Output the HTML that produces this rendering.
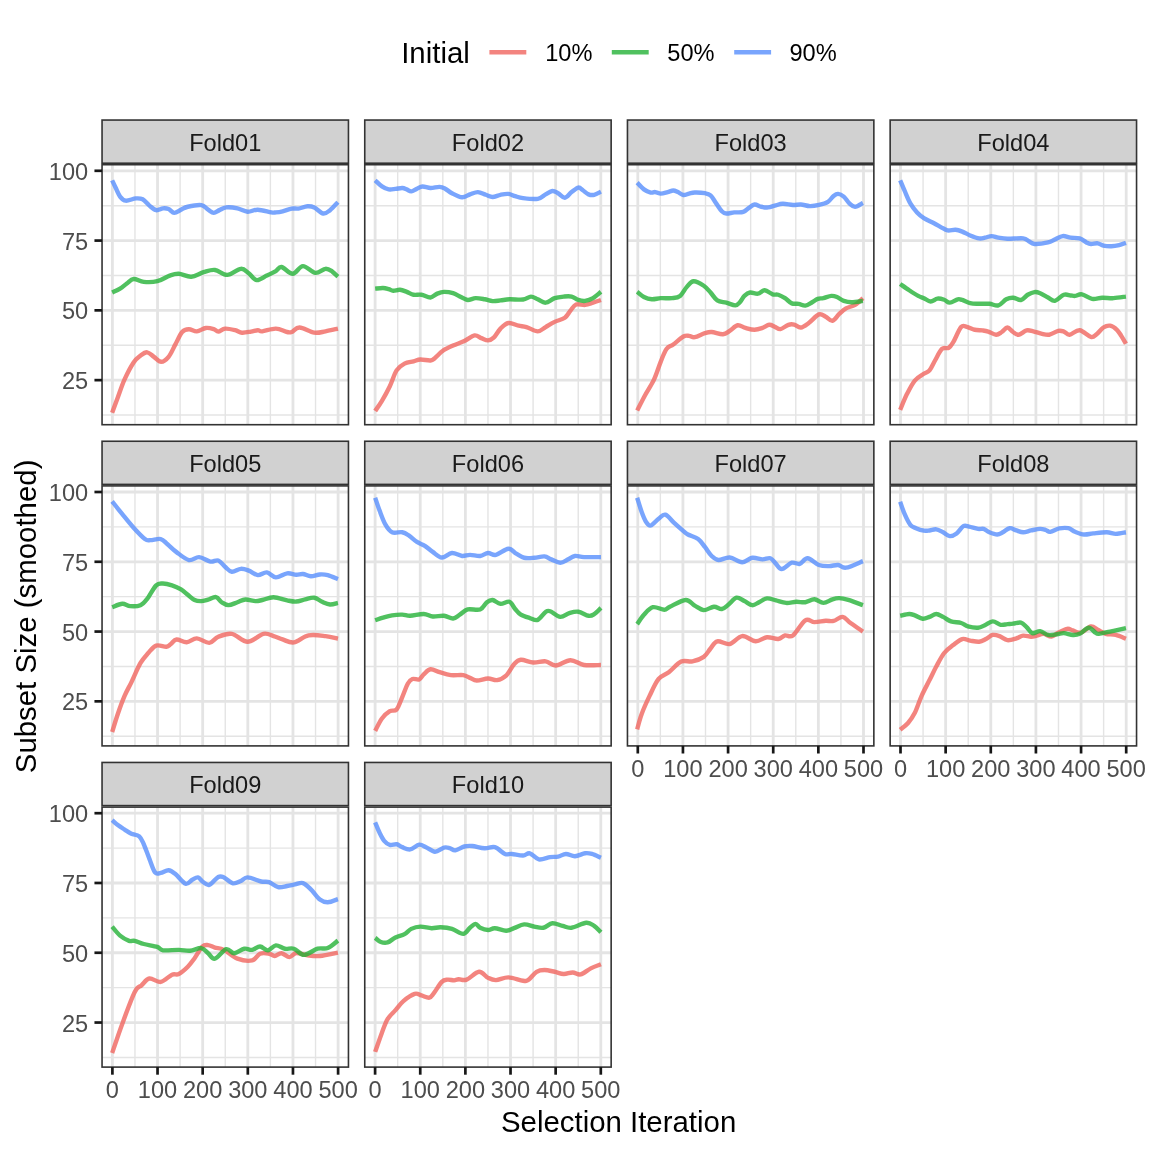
<!DOCTYPE html>
<html><head><meta charset="utf-8"><style>html,body{margin:0;padding:0;background:#fff;width:1152px;height:1152px;overflow:hidden}</style></head>
<body><svg width="1152" height="1152" viewBox="0 0 1152 1152" style="display:block;will-change:transform">
<rect width="1152" height="1152" fill="#fff"/>
<g font-family="Liberation Sans, sans-serif">
<text x="401.2" y="63.4" font-size="29.4" fill="#000">Initial</text>
<line x1="489.40" y1="52.2" x2="526.30" y2="52.2" stroke="#F0655F" stroke-opacity="0.8" stroke-width="4.4"/>
<text x="545.20" y="61.4" font-size="23.6" fill="#000">10%</text>
<line x1="611.80" y1="52.2" x2="648.70" y2="52.2" stroke="#24B237" stroke-opacity="0.8" stroke-width="4.4"/>
<text x="667.30" y="61.4" font-size="23.6" fill="#000">50%</text>
<line x1="734.20" y1="52.2" x2="771.10" y2="52.2" stroke="#588FFD" stroke-opacity="0.8" stroke-width="4.4"/>
<text x="789.40" y="61.4" font-size="23.6" fill="#000">90%</text>
</g>
<rect x="102.05" y="120.05" width="246.4" height="43.15" fill="#D1D1D1" stroke="#333333" stroke-width="1.6"/>
<text x="225.25" y="150.80" font-family="Liberation Sans, sans-serif" font-size="23.6" fill="#1A1A1A" text-anchor="middle">Fold01</text>
<g stroke="#E4E4E4">
<line x1="102.05" x2="348.45" y1="415.03" y2="415.03" stroke-width="1.4"/>
<line x1="102.05" x2="348.45" y1="345.25" y2="345.25" stroke-width="1.4"/>
<line x1="102.05" x2="348.45" y1="275.47" y2="275.47" stroke-width="1.4"/>
<line x1="102.05" x2="348.45" y1="205.69" y2="205.69" stroke-width="1.4"/>
<line y1="164.70" y2="424.70" x1="134.97" x2="134.97" stroke-width="1.4"/>
<line y1="164.70" y2="424.70" x1="180.11" x2="180.11" stroke-width="1.4"/>
<line y1="164.70" y2="424.70" x1="225.25" x2="225.25" stroke-width="1.4"/>
<line y1="164.70" y2="424.70" x1="270.39" x2="270.39" stroke-width="1.4"/>
<line y1="164.70" y2="424.70" x1="315.53" x2="315.53" stroke-width="1.4"/>
<line x1="102.05" x2="348.45" y1="380.14" y2="380.14" stroke-width="2.8"/>
<line x1="102.05" x2="348.45" y1="310.36" y2="310.36" stroke-width="2.8"/>
<line x1="102.05" x2="348.45" y1="240.58" y2="240.58" stroke-width="2.8"/>
<line x1="102.05" x2="348.45" y1="170.80" y2="170.80" stroke-width="2.8"/>
<line y1="164.70" y2="424.70" x1="112.40" x2="112.40" stroke-width="2.8"/>
<line y1="164.70" y2="424.70" x1="157.54" x2="157.54" stroke-width="2.8"/>
<line y1="164.70" y2="424.70" x1="202.68" x2="202.68" stroke-width="2.8"/>
<line y1="164.70" y2="424.70" x1="247.82" x2="247.82" stroke-width="2.8"/>
<line y1="164.70" y2="424.70" x1="292.96" x2="292.96" stroke-width="2.8"/>
<line y1="164.70" y2="424.70" x1="338.10" x2="338.10" stroke-width="2.8"/>
</g>
<path d="M112.16,412.81 C113.10,410.25 115.73,403.03 117.80,397.47 C119.87,391.90 121.94,385.24 124.58,379.41 C127.21,373.58 130.97,366.43 133.61,362.48 C136.24,358.53 138.12,357.40 140.38,355.71 C142.64,354.02 144.90,352.14 147.16,352.33 C149.41,352.51 151.60,355.26 153.93,356.84 C156.26,358.42 158.71,361.81 161.15,361.81 C163.60,361.81 166.23,359.74 168.60,356.84 C170.97,353.94 173.12,348.56 175.38,344.43 C177.64,340.29 179.89,334.53 182.15,332.01 C184.41,329.49 186.48,329.42 188.92,329.31 C191.37,329.19 194.00,331.56 196.83,331.34 C199.65,331.11 203.04,328.33 205.86,327.95 C208.68,327.58 211.69,328.48 213.76,329.08 C215.83,329.68 216.39,331.64 218.28,331.56 C220.16,331.49 222.23,328.85 225.05,328.63 C227.87,328.40 232.39,329.53 235.21,330.21 C238.03,330.89 239.35,332.47 241.98,332.69 C244.62,332.92 248.38,331.98 251.01,331.56 C253.65,331.15 255.90,330.25 257.79,330.21 C259.67,330.17 259.29,331.60 262.30,331.34 C265.31,331.07 271.71,328.52 275.85,328.63 C279.99,328.74 284.50,331.45 287.14,332.01 C289.77,332.58 289.58,332.77 291.65,332.01 C293.72,331.26 295.79,327.39 299.55,327.50 C303.32,327.61 309.90,332.05 314.23,332.69 C318.56,333.33 321.57,332.01 325.52,331.34 C329.47,330.66 335.87,329.08 337.94,328.63" fill="none" stroke="#F0655F" stroke-opacity="0.8" stroke-width="4.4" stroke-linejoin="round" stroke-linecap="butt"/>
<path d="M112.16,292.52 C113.48,291.88 117.62,290.19 120.06,288.68 C122.51,287.18 124.58,285.11 126.84,283.49 C129.09,281.87 130.79,279.24 133.61,278.98 C136.43,278.71 139.82,281.53 143.77,281.91 C147.72,282.29 152.99,282.29 157.32,281.23 C161.64,280.18 166.16,276.83 169.73,275.59 C173.31,274.35 175.19,273.60 178.76,273.78 C182.34,273.97 187.04,276.98 191.18,276.72 C195.32,276.46 199.65,273.33 203.60,272.20 C207.55,271.08 210.94,269.50 214.89,269.95 C218.84,270.40 222.98,275.10 227.31,274.91 C231.63,274.73 237.28,269.08 240.85,268.82 C244.43,268.56 246.12,271.45 248.76,273.33 C251.39,275.21 253.65,279.73 256.66,280.10 C259.67,280.48 263.62,277.09 266.82,275.59 C270.02,274.09 273.40,272.51 275.85,271.08 C278.29,269.65 278.67,266.56 281.49,267.01 C284.31,267.47 289.21,273.94 292.78,273.78 C296.36,273.63 299.18,266.26 302.94,266.11 C306.70,265.96 311.60,272.43 315.36,272.88 C319.12,273.33 322.70,269.05 325.52,268.82 C328.34,268.59 330.22,270.21 332.29,271.53 C334.36,272.84 337.00,275.85 337.94,276.72" fill="none" stroke="#24B237" stroke-opacity="0.8" stroke-width="4.4" stroke-linejoin="round" stroke-linecap="butt"/>
<path d="M112.16,180.35 C112.72,181.55 114.23,184.86 115.55,187.57 C116.86,190.28 118.37,194.42 120.06,196.60 C121.76,198.78 123.07,200.36 125.71,200.66 C128.34,200.96 133.04,198.63 135.87,198.40 C138.69,198.18 140.38,198.10 142.64,199.31 C144.90,200.51 147.16,203.82 149.41,205.62 C151.67,207.43 153.93,209.69 156.19,210.14 C158.44,210.59 160.89,208.52 162.96,208.33 C165.03,208.15 166.72,208.26 168.60,209.01 C170.49,209.76 172.18,212.73 174.25,212.85 C176.32,212.96 178.76,210.70 181.02,209.69 C183.28,208.67 184.41,207.51 187.80,206.75 C191.18,206.00 197.96,204.68 201.34,205.17 C204.73,205.66 206.05,208.41 208.12,209.69 C210.18,210.97 211.88,212.77 213.76,212.85 C215.64,212.92 217.33,211.04 219.40,210.14 C221.47,209.24 223.17,207.73 226.18,207.43 C229.19,207.13 233.89,207.62 237.47,208.33 C241.04,209.05 244.24,211.49 247.63,211.72 C251.01,211.94 253.84,209.57 257.79,209.69 C261.74,209.80 268.32,211.94 271.33,212.40 C274.34,212.85 273.97,212.58 275.85,212.40 C277.73,212.21 279.99,211.91 282.62,211.27 C285.26,210.63 289.02,209.01 291.65,208.56 C294.29,208.11 295.79,208.94 298.43,208.56 C301.06,208.18 304.82,206.49 307.46,206.30 C310.09,206.11 311.60,206.23 314.23,207.43 C316.86,208.63 320.63,213.07 323.26,213.52 C325.90,213.98 327.59,212.02 330.03,210.14 C332.48,208.26 336.62,203.56 337.94,202.24" fill="none" stroke="#588FFD" stroke-opacity="0.8" stroke-width="4.4" stroke-linejoin="round" stroke-linecap="butt"/>
<rect x="102.05" y="164.70" width="246.4" height="260.0" fill="none" stroke="#333333" stroke-width="1.6"/>
<line x1="94.45" x2="102.05" y1="380.14" y2="380.14" stroke="#171717" stroke-width="2.7"/>
<text x="88.15" y="389.24" font-family="Liberation Sans, sans-serif" font-size="23.6" fill="#4D4D4D" text-anchor="end">25</text>
<line x1="94.45" x2="102.05" y1="310.36" y2="310.36" stroke="#171717" stroke-width="2.7"/>
<text x="88.15" y="319.46" font-family="Liberation Sans, sans-serif" font-size="23.6" fill="#4D4D4D" text-anchor="end">50</text>
<line x1="94.45" x2="102.05" y1="240.58" y2="240.58" stroke="#171717" stroke-width="2.7"/>
<text x="88.15" y="249.68" font-family="Liberation Sans, sans-serif" font-size="23.6" fill="#4D4D4D" text-anchor="end">75</text>
<line x1="94.45" x2="102.05" y1="170.80" y2="170.80" stroke="#171717" stroke-width="2.7"/>
<text x="88.15" y="179.90" font-family="Liberation Sans, sans-serif" font-size="23.6" fill="#4D4D4D" text-anchor="end">100</text>
<rect x="364.75" y="120.05" width="246.4" height="43.15" fill="#D1D1D1" stroke="#333333" stroke-width="1.6"/>
<text x="487.95" y="150.80" font-family="Liberation Sans, sans-serif" font-size="23.6" fill="#1A1A1A" text-anchor="middle">Fold02</text>
<g stroke="#E4E4E4">
<line x1="364.75" x2="611.15" y1="415.03" y2="415.03" stroke-width="1.4"/>
<line x1="364.75" x2="611.15" y1="345.25" y2="345.25" stroke-width="1.4"/>
<line x1="364.75" x2="611.15" y1="275.47" y2="275.47" stroke-width="1.4"/>
<line x1="364.75" x2="611.15" y1="205.69" y2="205.69" stroke-width="1.4"/>
<line y1="164.70" y2="424.70" x1="397.67" x2="397.67" stroke-width="1.4"/>
<line y1="164.70" y2="424.70" x1="442.81" x2="442.81" stroke-width="1.4"/>
<line y1="164.70" y2="424.70" x1="487.95" x2="487.95" stroke-width="1.4"/>
<line y1="164.70" y2="424.70" x1="533.09" x2="533.09" stroke-width="1.4"/>
<line y1="164.70" y2="424.70" x1="578.23" x2="578.23" stroke-width="1.4"/>
<line x1="364.75" x2="611.15" y1="380.14" y2="380.14" stroke-width="2.8"/>
<line x1="364.75" x2="611.15" y1="310.36" y2="310.36" stroke-width="2.8"/>
<line x1="364.75" x2="611.15" y1="240.58" y2="240.58" stroke-width="2.8"/>
<line x1="364.75" x2="611.15" y1="170.80" y2="170.80" stroke-width="2.8"/>
<line y1="164.70" y2="424.70" x1="375.10" x2="375.10" stroke-width="2.8"/>
<line y1="164.70" y2="424.70" x1="420.24" x2="420.24" stroke-width="2.8"/>
<line y1="164.70" y2="424.70" x1="465.38" x2="465.38" stroke-width="2.8"/>
<line y1="164.70" y2="424.70" x1="510.52" x2="510.52" stroke-width="2.8"/>
<line y1="164.70" y2="424.70" x1="555.66" x2="555.66" stroke-width="2.8"/>
<line y1="164.70" y2="424.70" x1="600.80" x2="600.80" stroke-width="2.8"/>
</g>
<path d="M375.16,411.01 C376.29,409.31 379.49,404.99 381.93,400.85 C384.38,396.71 387.39,391.26 389.84,386.18 C392.28,381.10 394.16,374.14 396.61,370.38 C399.05,366.62 401.69,365.12 404.51,363.61 C407.33,362.11 410.91,362.03 413.54,361.35 C416.18,360.68 417.49,359.70 420.32,359.55 C423.14,359.40 428.03,360.71 430.48,360.45 C432.92,360.19 432.92,359.59 434.99,357.97 C437.06,356.35 439.88,352.82 442.89,350.75 C445.90,348.68 449.48,347.17 453.05,345.56 C456.63,343.94 460.77,342.73 464.34,341.04 C467.92,339.35 471.68,335.89 474.50,335.40 C477.32,334.91 479.02,337.28 481.28,338.11 C483.53,338.94 485.98,340.44 488.05,340.36 C490.12,340.29 491.62,339.61 493.69,337.66 C495.76,335.70 498.02,331.07 500.47,328.63 C502.91,326.18 505.36,323.48 508.37,322.99 C511.38,322.50 515.52,325.02 518.53,325.69 C521.54,326.37 523.23,326.11 526.43,327.05 C529.63,327.99 534.52,331.34 537.72,331.34 C540.92,331.34 542.80,328.63 545.62,327.05 C548.44,325.47 551.45,323.40 554.65,321.86 C557.85,320.32 562.18,319.68 564.81,317.80 C567.45,315.91 568.58,312.79 570.46,310.57 C572.34,308.35 573.66,305.42 576.10,304.48 C578.55,303.54 582.31,305.23 585.13,304.93 C587.95,304.63 590.40,303.50 593.03,302.67 C595.67,301.85 599.62,300.42 600.94,299.97" fill="none" stroke="#F0655F" stroke-opacity="0.8" stroke-width="4.4" stroke-linejoin="round" stroke-linecap="butt"/>
<path d="M375.16,288.68 C376.48,288.57 380.80,287.93 383.06,288.00 C385.32,288.08 387.01,288.68 388.71,289.13 C390.40,289.58 391.34,290.60 393.22,290.71 C395.10,290.82 397.74,289.62 400.00,289.81 C402.25,290.00 404.51,291.01 406.77,291.84 C409.03,292.67 411.10,294.29 413.54,294.77 C415.99,295.26 418.62,294.32 421.44,294.77 C424.27,295.23 427.84,297.67 430.48,297.48 C433.11,297.29 434.99,294.59 437.25,293.65 C439.51,292.71 441.39,291.92 444.02,291.84 C446.66,291.77 450.23,292.33 453.05,293.19 C455.88,294.06 458.51,295.90 460.96,297.03 C463.40,298.16 465.28,299.78 467.73,299.97 C470.17,300.15 472.81,298.27 475.63,298.16 C478.45,298.05 481.84,298.80 484.66,299.29 C487.48,299.78 489.93,300.91 492.56,301.09 C495.20,301.28 497.64,300.72 500.47,300.42 C503.29,300.12 505.73,299.44 509.50,299.29 C513.26,299.14 519.47,299.97 523.04,299.51 C526.62,299.06 528.50,296.62 530.95,296.58 C533.39,296.54 535.27,298.27 537.72,299.29 C540.17,300.30 542.80,302.86 545.62,302.67 C548.44,302.49 551.64,299.18 554.65,298.16 C557.66,297.14 560.86,296.84 563.68,296.58 C566.51,296.32 569.14,296.02 571.59,296.58 C574.03,297.14 576.10,299.25 578.36,299.97 C580.62,300.68 582.69,301.17 585.13,300.87 C587.58,300.57 590.40,299.66 593.03,298.16 C595.67,296.66 599.62,292.89 600.94,291.84" fill="none" stroke="#24B237" stroke-opacity="0.8" stroke-width="4.4" stroke-linejoin="round" stroke-linecap="butt"/>
<path d="M375.16,180.35 C376.29,181.36 379.68,184.94 381.93,186.44 C384.19,187.95 386.45,188.96 388.71,189.38 C390.96,189.79 393.22,189.15 395.48,188.92 C397.74,188.70 400.37,187.95 402.25,188.02 C404.13,188.10 405.26,188.81 406.77,189.38 C408.27,189.94 409.59,191.52 411.28,191.41 C412.98,191.29 415.05,189.53 416.93,188.70 C418.81,187.87 420.32,186.55 422.57,186.44 C424.83,186.33 427.65,187.95 430.48,188.02 C433.30,188.10 437.06,186.78 439.51,186.89 C441.95,187.01 443.08,187.64 445.15,188.70 C447.22,189.75 449.10,191.78 451.92,193.21 C454.75,194.64 459.07,197.09 462.08,197.27 C465.09,197.46 467.35,195.21 469.99,194.34 C472.62,193.48 475.25,192.01 477.89,192.08 C480.52,192.16 483.34,193.96 485.79,194.79 C488.24,195.62 490.12,197.05 492.56,197.05 C495.01,197.05 497.83,195.32 500.47,194.79 C503.10,194.27 505.92,193.66 508.37,193.89 C510.81,194.11 512.70,195.43 515.14,196.15 C517.59,196.86 519.28,197.73 523.04,198.18 C526.81,198.63 533.96,199.49 537.72,198.85 C541.48,198.21 543.18,195.66 545.62,194.34 C548.07,193.02 550.33,191.14 552.39,190.95 C554.46,190.77 555.97,192.08 558.04,193.21 C560.11,194.34 562.55,197.91 564.81,197.73 C567.07,197.54 569.33,193.78 571.59,192.08 C573.84,190.39 576.48,187.87 578.36,187.57 C580.24,187.27 581.18,189.15 582.87,190.28 C584.57,191.41 586.64,193.59 588.52,194.34 C590.40,195.09 592.09,195.24 594.16,194.79 C596.23,194.34 599.81,192.16 600.94,191.63" fill="none" stroke="#588FFD" stroke-opacity="0.8" stroke-width="4.4" stroke-linejoin="round" stroke-linecap="butt"/>
<rect x="364.75" y="164.70" width="246.4" height="260.0" fill="none" stroke="#333333" stroke-width="1.6"/>
<rect x="627.45" y="120.05" width="246.4" height="43.15" fill="#D1D1D1" stroke="#333333" stroke-width="1.6"/>
<text x="750.65" y="150.80" font-family="Liberation Sans, sans-serif" font-size="23.6" fill="#1A1A1A" text-anchor="middle">Fold03</text>
<g stroke="#E4E4E4">
<line x1="627.45" x2="873.85" y1="415.03" y2="415.03" stroke-width="1.4"/>
<line x1="627.45" x2="873.85" y1="345.25" y2="345.25" stroke-width="1.4"/>
<line x1="627.45" x2="873.85" y1="275.47" y2="275.47" stroke-width="1.4"/>
<line x1="627.45" x2="873.85" y1="205.69" y2="205.69" stroke-width="1.4"/>
<line y1="164.70" y2="424.70" x1="660.37" x2="660.37" stroke-width="1.4"/>
<line y1="164.70" y2="424.70" x1="705.51" x2="705.51" stroke-width="1.4"/>
<line y1="164.70" y2="424.70" x1="750.65" x2="750.65" stroke-width="1.4"/>
<line y1="164.70" y2="424.70" x1="795.79" x2="795.79" stroke-width="1.4"/>
<line y1="164.70" y2="424.70" x1="840.93" x2="840.93" stroke-width="1.4"/>
<line x1="627.45" x2="873.85" y1="380.14" y2="380.14" stroke-width="2.8"/>
<line x1="627.45" x2="873.85" y1="310.36" y2="310.36" stroke-width="2.8"/>
<line x1="627.45" x2="873.85" y1="240.58" y2="240.58" stroke-width="2.8"/>
<line x1="627.45" x2="873.85" y1="170.80" y2="170.80" stroke-width="2.8"/>
<line y1="164.70" y2="424.70" x1="637.80" x2="637.80" stroke-width="2.8"/>
<line y1="164.70" y2="424.70" x1="682.94" x2="682.94" stroke-width="2.8"/>
<line y1="164.70" y2="424.70" x1="728.08" x2="728.08" stroke-width="2.8"/>
<line y1="164.70" y2="424.70" x1="773.22" x2="773.22" stroke-width="2.8"/>
<line y1="164.70" y2="424.70" x1="818.36" x2="818.36" stroke-width="2.8"/>
<line y1="164.70" y2="424.70" x1="863.50" x2="863.50" stroke-width="2.8"/>
</g>
<path d="M637.16,410.56 C638.48,408.00 642.24,400.40 645.06,395.21 C647.88,390.02 651.46,385.05 654.09,379.41 C656.73,373.77 658.80,366.43 660.87,361.35 C662.94,356.28 664.44,351.76 666.51,348.94 C668.58,346.12 670.46,346.50 673.28,344.43 C676.11,342.36 680.81,337.96 683.44,336.53 C686.08,335.10 687.21,335.74 689.09,335.85 C690.97,335.96 692.10,337.66 694.73,337.20 C697.37,336.75 702.07,334.01 704.89,333.14 C707.72,332.28 708.66,331.83 711.67,332.01 C714.68,332.20 719.94,334.46 722.96,334.27 C725.97,334.08 727.28,332.39 729.73,330.89 C732.17,329.38 735.00,325.73 737.63,325.24 C740.26,324.75 742.71,327.20 745.53,327.95 C748.36,328.70 751.74,329.76 754.56,329.76 C757.39,329.76 760.02,328.78 762.47,327.95 C764.91,327.12 767.17,324.98 769.24,324.79 C771.31,324.60 773.00,326.11 774.88,326.82 C776.77,327.54 778.27,329.42 780.53,329.08 C782.79,328.74 786.17,325.54 788.43,324.79 C790.69,324.04 792.01,324.11 794.07,324.57 C796.14,325.02 798.40,327.76 800.85,327.50 C803.29,327.24 805.74,325.17 808.75,322.99 C811.76,320.80 816.09,315.46 818.91,314.41 C821.73,313.36 823.43,315.61 825.68,316.67 C827.94,317.72 830.20,321.18 832.46,320.73 C834.71,320.28 836.97,316.03 839.23,313.96 C841.49,311.89 843.37,309.82 846.00,308.32 C848.64,306.81 852.21,306.62 855.03,304.93 C857.86,303.24 861.62,299.29 862.94,298.16" fill="none" stroke="#F0655F" stroke-opacity="0.8" stroke-width="4.4" stroke-linejoin="round" stroke-linecap="butt"/>
<path d="M637.16,291.84 C638.29,292.71 641.49,295.79 643.93,297.03 C646.38,298.27 649.01,299.10 651.84,299.29 C654.66,299.48 657.48,298.35 660.87,298.16 C664.25,297.97 668.96,298.54 672.16,298.16 C675.35,297.78 677.61,297.78 680.06,295.90 C682.50,294.02 684.57,289.32 686.83,286.88 C689.09,284.43 690.78,281.42 693.60,281.23 C696.43,281.04 700.94,283.87 703.76,285.75 C706.59,287.63 708.28,290.07 710.54,292.52 C712.80,294.96 714.68,298.72 717.31,300.42 C719.94,302.11 723.33,301.85 726.34,302.67 C729.35,303.50 733.12,305.46 735.37,305.38 C737.63,305.31 738.38,303.80 739.89,302.22 C741.39,300.64 742.71,297.52 744.40,295.90 C746.10,294.29 747.79,292.89 750.05,292.52 C752.31,292.14 755.50,294.02 757.95,293.65 C760.40,293.27 762.28,290.15 764.72,290.26 C767.17,290.37 770.37,293.57 772.63,294.32 C774.88,295.08 776.20,294.13 778.27,294.77 C780.34,295.41 782.79,296.73 785.04,298.16 C787.30,299.59 789.56,302.41 791.82,303.35 C794.07,304.29 796.33,303.43 798.59,303.80 C800.85,304.18 803.11,305.87 805.36,305.61 C807.62,305.34 810.07,303.35 812.14,302.22 C814.21,301.09 815.90,299.51 817.78,298.84 C819.66,298.16 821.17,298.65 823.43,298.16 C825.68,297.67 829.07,296.09 831.33,295.90 C833.59,295.71 834.90,296.20 836.97,297.03 C839.04,297.86 841.30,300.00 843.75,300.87 C846.19,301.73 848.45,302.22 851.65,302.22 C854.85,302.22 861.06,301.09 862.94,300.87" fill="none" stroke="#24B237" stroke-opacity="0.8" stroke-width="4.4" stroke-linejoin="round" stroke-linecap="butt"/>
<path d="M637.16,182.60 C638.29,183.73 641.68,187.72 643.93,189.38 C646.19,191.03 648.83,192.08 650.71,192.53 C652.59,192.99 653.53,191.90 655.22,192.08 C656.92,192.27 658.80,193.66 660.87,193.66 C662.94,193.66 665.57,192.61 667.64,192.08 C669.71,191.56 671.59,190.50 673.28,190.50 C674.98,190.50 676.11,191.33 677.80,192.08 C679.49,192.84 681.56,194.75 683.44,195.02 C685.33,195.28 687.21,194.08 689.09,193.66 C690.97,193.25 692.10,192.61 694.73,192.53 C697.37,192.46 702.26,192.72 704.89,193.21 C707.53,193.70 708.66,193.78 710.54,195.47 C712.42,197.16 714.30,200.73 716.18,203.37 C718.06,206.00 720.13,209.57 721.83,211.27 C723.52,212.96 724.27,213.34 726.34,213.52 C728.41,213.71 731.42,212.66 734.24,212.40 C737.07,212.13 740.83,212.70 743.28,211.94 C745.72,211.19 747.04,209.12 748.92,207.88 C750.80,206.64 752.49,204.68 754.56,204.50 C756.63,204.31 759.08,206.26 761.34,206.75 C763.60,207.24 765.85,207.62 768.11,207.43 C770.37,207.24 772.44,206.23 774.88,205.62 C777.33,205.02 779.78,203.93 782.79,203.82 C785.80,203.71 789.94,204.84 792.95,204.95 C795.96,205.06 798.03,204.31 800.85,204.50 C803.67,204.68 806.87,206.00 809.88,206.08 C812.89,206.15 815.90,205.66 818.91,204.95 C821.92,204.23 825.50,203.29 827.94,201.79 C830.39,200.28 831.89,197.24 833.59,195.92 C835.28,194.60 836.41,193.78 838.10,193.89 C839.79,194.00 841.86,195.02 843.75,196.60 C845.63,198.18 847.51,201.68 849.39,203.37 C851.27,205.06 852.78,206.83 855.03,206.75 C857.29,206.68 861.62,203.56 862.94,202.92" fill="none" stroke="#588FFD" stroke-opacity="0.8" stroke-width="4.4" stroke-linejoin="round" stroke-linecap="butt"/>
<rect x="627.45" y="164.70" width="246.4" height="260.0" fill="none" stroke="#333333" stroke-width="1.6"/>
<rect x="890.15" y="120.05" width="246.4" height="43.15" fill="#D1D1D1" stroke="#333333" stroke-width="1.6"/>
<text x="1013.35" y="150.80" font-family="Liberation Sans, sans-serif" font-size="23.6" fill="#1A1A1A" text-anchor="middle">Fold04</text>
<g stroke="#E4E4E4">
<line x1="890.15" x2="1136.55" y1="415.03" y2="415.03" stroke-width="1.4"/>
<line x1="890.15" x2="1136.55" y1="345.25" y2="345.25" stroke-width="1.4"/>
<line x1="890.15" x2="1136.55" y1="275.47" y2="275.47" stroke-width="1.4"/>
<line x1="890.15" x2="1136.55" y1="205.69" y2="205.69" stroke-width="1.4"/>
<line y1="164.70" y2="424.70" x1="923.07" x2="923.07" stroke-width="1.4"/>
<line y1="164.70" y2="424.70" x1="968.21" x2="968.21" stroke-width="1.4"/>
<line y1="164.70" y2="424.70" x1="1013.35" x2="1013.35" stroke-width="1.4"/>
<line y1="164.70" y2="424.70" x1="1058.49" x2="1058.49" stroke-width="1.4"/>
<line y1="164.70" y2="424.70" x1="1103.63" x2="1103.63" stroke-width="1.4"/>
<line x1="890.15" x2="1136.55" y1="380.14" y2="380.14" stroke-width="2.8"/>
<line x1="890.15" x2="1136.55" y1="310.36" y2="310.36" stroke-width="2.8"/>
<line x1="890.15" x2="1136.55" y1="240.58" y2="240.58" stroke-width="2.8"/>
<line x1="890.15" x2="1136.55" y1="170.80" y2="170.80" stroke-width="2.8"/>
<line y1="164.70" y2="424.70" x1="900.50" x2="900.50" stroke-width="2.8"/>
<line y1="164.70" y2="424.70" x1="945.64" x2="945.64" stroke-width="2.8"/>
<line y1="164.70" y2="424.70" x1="990.78" x2="990.78" stroke-width="2.8"/>
<line y1="164.70" y2="424.70" x1="1035.92" x2="1035.92" stroke-width="2.8"/>
<line y1="164.70" y2="424.70" x1="1081.06" x2="1081.06" stroke-width="2.8"/>
<line y1="164.70" y2="424.70" x1="1126.20" x2="1126.20" stroke-width="2.8"/>
</g>
<path d="M900.16,409.88 C901.29,407.25 904.49,398.97 906.93,394.08 C909.38,389.19 912.01,383.92 914.84,380.54 C917.66,377.15 921.42,375.46 923.87,373.77 C926.31,372.07 927.63,372.64 929.51,370.38 C931.39,368.12 933.09,363.80 935.16,360.23 C937.23,356.65 939.67,351.01 941.93,348.94 C944.19,346.87 946.82,348.94 948.70,347.81 C950.58,346.68 951.15,345.63 953.22,342.17 C955.29,338.71 958.86,329.61 961.12,327.05 C963.38,324.49 964.51,326.37 966.76,326.82 C969.02,327.27 972.03,329.16 974.67,329.76 C977.30,330.36 980.31,330.13 982.57,330.43 C984.83,330.73 985.96,330.85 988.21,331.56 C990.47,332.28 993.86,334.65 996.12,334.72 C998.37,334.80 999.88,333.22 1001.76,332.01 C1003.64,330.81 1005.52,327.50 1007.40,327.50 C1009.29,327.50 1011.17,330.81 1013.05,332.01 C1014.93,333.22 1016.44,334.99 1018.69,334.72 C1020.95,334.46 1024.15,331.00 1026.60,330.43 C1029.04,329.87 1030.92,330.81 1033.37,331.34 C1035.81,331.86 1038.64,333.03 1041.27,333.59 C1043.90,334.16 1046.35,335.17 1049.17,334.72 C1051.99,334.27 1055.76,331.41 1058.20,330.89 C1060.65,330.36 1061.97,330.92 1063.85,331.56 C1065.73,332.20 1066.86,334.95 1069.49,334.72 C1072.13,334.50 1076.08,329.83 1079.65,330.21 C1083.23,330.58 1088.12,336.30 1090.94,336.98 C1093.76,337.66 1094.52,335.85 1096.59,334.27 C1098.66,332.69 1101.10,328.93 1103.36,327.50 C1105.62,326.07 1107.87,325.32 1110.13,325.69 C1112.39,326.07 1115.02,328.03 1116.91,329.76 C1118.79,331.49 1119.92,333.74 1121.42,336.08 C1122.93,338.41 1125.18,342.47 1125.94,343.75" fill="none" stroke="#F0655F" stroke-opacity="0.8" stroke-width="4.4" stroke-linejoin="round" stroke-linecap="butt"/>
<path d="M900.16,283.94 C901.67,284.99 906.18,288.27 909.19,290.26 C912.20,292.25 915.78,294.59 918.22,295.90 C920.67,297.22 921.80,297.22 923.87,298.16 C925.94,299.10 928.38,301.47 930.64,301.55 C932.90,301.62 935.16,298.91 937.41,298.61 C939.67,298.31 942.12,299.06 944.19,299.74 C946.26,300.42 947.57,302.75 949.83,302.67 C952.09,302.60 955.66,299.74 957.73,299.29 C959.80,298.84 960.18,299.33 962.25,299.97 C964.32,300.60 967.52,302.49 970.15,303.12 C972.78,303.76 974.85,303.69 978.05,303.80 C981.25,303.91 985.96,303.54 989.34,303.80 C992.73,304.07 995.55,306.13 998.37,305.38 C1001.20,304.63 1003.83,300.57 1006.28,299.29 C1008.72,298.01 1010.60,297.60 1013.05,297.71 C1015.49,297.82 1018.50,300.45 1020.95,299.97 C1023.40,299.48 1025.47,296.09 1027.72,294.77 C1029.98,293.46 1032.43,292.33 1034.50,292.07 C1036.57,291.80 1037.88,292.29 1040.14,293.19 C1042.40,294.10 1045.60,296.20 1048.04,297.48 C1050.49,298.76 1052.18,301.32 1054.82,300.87 C1057.45,300.42 1061.21,295.68 1063.85,294.77 C1066.48,293.87 1068.74,295.26 1070.62,295.45 C1072.50,295.64 1073.26,296.09 1075.14,295.90 C1077.02,295.71 1079.09,293.83 1081.91,294.32 C1084.73,294.81 1088.68,298.27 1092.07,298.84 C1095.46,299.40 1098.66,297.82 1102.23,297.71 C1105.81,297.60 1109.57,298.35 1113.52,298.16 C1117.47,297.97 1123.87,296.84 1125.94,296.58" fill="none" stroke="#24B237" stroke-opacity="0.8" stroke-width="4.4" stroke-linejoin="round" stroke-linecap="butt"/>
<path d="M900.16,180.35 C900.91,182.12 902.98,187.12 904.68,190.95 C906.37,194.79 908.25,199.79 910.32,203.37 C912.39,206.94 914.84,209.95 917.09,212.40 C919.35,214.84 921.04,216.23 923.87,218.04 C926.69,219.84 931.20,221.72 934.03,223.23 C936.85,224.73 938.54,225.86 940.80,227.07 C943.06,228.27 945.13,230.00 947.57,230.45 C950.02,230.90 953.03,229.59 955.48,229.77 C957.92,229.96 959.80,230.64 962.25,231.58 C964.69,232.52 967.33,234.29 970.15,235.42 C972.97,236.55 976.74,237.97 979.18,238.35 C981.63,238.73 982.76,238.05 984.83,237.67 C986.90,237.30 989.34,236.09 991.60,236.09 C993.86,236.09 995.74,237.22 998.37,237.67 C1001.01,238.12 1003.26,238.69 1007.40,238.80 C1011.54,238.91 1019.63,237.94 1023.21,238.35 C1026.78,238.76 1026.97,240.34 1028.85,241.28 C1030.73,242.23 1031.30,243.80 1034.50,243.99 C1037.70,244.18 1044.66,243.17 1048.04,242.41 C1051.43,241.66 1052.37,240.53 1054.82,239.48 C1057.26,238.43 1060.09,236.39 1062.72,236.09 C1065.35,235.79 1067.80,237.30 1070.62,237.67 C1073.44,238.05 1077.02,237.56 1079.65,238.35 C1082.29,239.14 1084.54,241.47 1086.43,242.41 C1088.31,243.35 1089.06,243.84 1090.94,243.99 C1092.82,244.14 1095.65,243.05 1097.71,243.32 C1099.78,243.58 1101.10,245.08 1103.36,245.57 C1105.62,246.06 1108.63,246.33 1111.26,246.25 C1113.90,246.17 1116.72,245.69 1119.16,245.12 C1121.61,244.56 1124.81,243.24 1125.94,242.86" fill="none" stroke="#588FFD" stroke-opacity="0.8" stroke-width="4.4" stroke-linejoin="round" stroke-linecap="butt"/>
<rect x="890.15" y="164.70" width="246.4" height="260.0" fill="none" stroke="#333333" stroke-width="1.6"/>
<rect x="102.05" y="441.25" width="246.4" height="43.15" fill="#D1D1D1" stroke="#333333" stroke-width="1.6"/>
<text x="225.25" y="472.00" font-family="Liberation Sans, sans-serif" font-size="23.6" fill="#1A1A1A" text-anchor="middle">Fold05</text>
<g stroke="#E4E4E4">
<line x1="102.05" x2="348.45" y1="736.23" y2="736.23" stroke-width="1.4"/>
<line x1="102.05" x2="348.45" y1="666.45" y2="666.45" stroke-width="1.4"/>
<line x1="102.05" x2="348.45" y1="596.67" y2="596.67" stroke-width="1.4"/>
<line x1="102.05" x2="348.45" y1="526.89" y2="526.89" stroke-width="1.4"/>
<line y1="485.90" y2="745.90" x1="134.97" x2="134.97" stroke-width="1.4"/>
<line y1="485.90" y2="745.90" x1="180.11" x2="180.11" stroke-width="1.4"/>
<line y1="485.90" y2="745.90" x1="225.25" x2="225.25" stroke-width="1.4"/>
<line y1="485.90" y2="745.90" x1="270.39" x2="270.39" stroke-width="1.4"/>
<line y1="485.90" y2="745.90" x1="315.53" x2="315.53" stroke-width="1.4"/>
<line x1="102.05" x2="348.45" y1="701.34" y2="701.34" stroke-width="2.8"/>
<line x1="102.05" x2="348.45" y1="631.56" y2="631.56" stroke-width="2.8"/>
<line x1="102.05" x2="348.45" y1="561.78" y2="561.78" stroke-width="2.8"/>
<line x1="102.05" x2="348.45" y1="492.00" y2="492.00" stroke-width="2.8"/>
<line y1="485.90" y2="745.90" x1="112.40" x2="112.40" stroke-width="2.8"/>
<line y1="485.90" y2="745.90" x1="157.54" x2="157.54" stroke-width="2.8"/>
<line y1="485.90" y2="745.90" x1="202.68" x2="202.68" stroke-width="2.8"/>
<line y1="485.90" y2="745.90" x1="247.82" x2="247.82" stroke-width="2.8"/>
<line y1="485.90" y2="745.90" x1="292.96" x2="292.96" stroke-width="2.8"/>
<line y1="485.90" y2="745.90" x1="338.10" x2="338.10" stroke-width="2.8"/>
</g>
<path d="M112.16,732.01 C113.10,729.00 115.73,719.97 117.80,713.95 C119.87,707.93 122.32,701.16 124.58,695.90 C126.84,690.63 128.72,687.81 131.35,682.35 C133.99,676.90 137.56,668.06 140.38,663.17 C143.20,658.28 145.65,655.95 148.28,653.01 C150.92,650.08 153.18,646.62 156.19,645.57 C159.20,644.51 163.90,646.96 166.35,646.69 C168.79,646.43 169.17,645.19 170.86,643.99 C172.56,642.78 173.87,639.77 176.51,639.47 C179.14,639.17 183.28,642.37 186.67,642.18 C190.05,641.99 193.06,638.23 196.83,638.34 C200.59,638.46 205.67,643.12 209.24,642.86 C212.82,642.59 214.51,638.27 218.28,636.76 C222.04,635.26 226.93,633.00 231.82,633.83 C236.71,634.66 242.36,641.73 247.63,641.73 C252.89,641.73 259.10,634.77 263.43,633.83 C267.76,632.89 270.39,635.15 273.59,636.09 C276.79,637.03 279.23,638.42 282.62,639.47 C286.01,640.53 289.58,643.08 293.91,642.41 C298.24,641.73 303.32,636.46 308.59,635.41 C313.85,634.36 320.63,635.52 325.52,636.09 C330.41,636.65 335.87,638.34 337.94,638.80" fill="none" stroke="#F0655F" stroke-opacity="0.8" stroke-width="4.4" stroke-linejoin="round" stroke-linecap="butt"/>
<path d="M112.16,607.20 C113.85,606.63 119.31,604.00 122.32,603.81 C125.33,603.62 127.21,605.84 130.22,606.07 C133.23,606.30 137.56,606.37 140.38,605.17 C143.20,603.96 144.52,602.16 147.16,598.85 C149.79,595.54 153.55,587.86 156.19,585.31 C158.82,582.75 160.33,583.50 162.96,583.50 C165.59,583.50 168.98,584.33 171.99,585.31 C175.00,586.28 178.39,587.79 181.02,589.37 C183.66,590.95 185.54,593.02 187.80,594.78 C190.05,596.55 192.31,598.92 194.57,599.98 C196.83,601.03 199.08,601.18 201.34,601.10 C203.60,601.03 205.67,600.20 208.12,599.52 C210.56,598.85 213.76,596.59 216.02,597.04 C218.28,597.49 219.59,600.88 221.66,602.23 C223.73,603.59 225.80,605.17 228.44,605.17 C231.07,605.17 234.64,603.17 237.47,602.23 C240.29,601.29 242.36,599.71 245.37,599.52 C248.38,599.34 252.71,601.03 255.53,601.10 C258.35,601.18 259.29,600.62 262.30,599.98 C265.31,599.34 269.45,597.19 273.59,597.27 C277.73,597.34 283.37,599.71 287.14,600.43 C290.90,601.14 293.16,601.74 296.17,601.56 C299.18,601.37 302.19,599.94 305.20,599.30 C308.21,598.66 311.41,597.30 314.23,597.72 C317.05,598.13 319.50,600.65 322.13,601.78 C324.77,602.91 327.40,604.30 330.03,604.49 C332.67,604.68 336.62,603.17 337.94,602.91" fill="none" stroke="#24B237" stroke-opacity="0.8" stroke-width="4.4" stroke-linejoin="round" stroke-linecap="butt"/>
<path d="M112.16,501.35 C113.85,503.49 118.75,509.81 122.32,514.21 C125.89,518.61 129.85,523.62 133.61,527.75 C137.37,531.89 142.08,536.97 144.90,539.04 C147.72,541.11 147.91,540.17 150.54,540.17 C153.18,540.17 157.88,538.36 160.70,539.04 C163.52,539.72 164.84,542.05 167.48,544.23 C170.11,546.41 172.93,549.50 176.51,552.13 C180.08,554.76 185.16,559.20 188.92,560.03 C192.69,560.86 195.51,556.83 199.08,557.09 C202.66,557.36 207.17,561.04 210.37,561.61 C213.57,562.17 215.83,559.61 218.28,560.48 C220.72,561.34 222.79,564.92 225.05,566.80 C227.31,568.68 229.19,571.43 231.82,571.76 C234.46,572.10 238.03,569.02 240.85,568.83 C243.68,568.64 245.93,569.58 248.76,570.64 C251.58,571.69 254.78,574.85 257.79,575.15 C260.80,575.45 263.81,572.06 266.82,572.44 C269.83,572.82 272.46,577.26 275.85,577.41 C279.23,577.56 283.75,573.80 287.14,573.34 C290.52,572.89 293.53,574.59 296.17,574.70 C298.80,574.81 300.50,573.76 302.94,574.02 C305.39,574.28 308.02,576.20 310.84,576.28 C313.67,576.35 317.05,574.66 319.87,574.47 C322.70,574.28 324.77,574.36 327.78,575.15 C330.79,575.94 336.24,578.53 337.94,579.21" fill="none" stroke="#588FFD" stroke-opacity="0.8" stroke-width="4.4" stroke-linejoin="round" stroke-linecap="butt"/>
<rect x="102.05" y="485.90" width="246.4" height="260.0" fill="none" stroke="#333333" stroke-width="1.6"/>
<line x1="94.45" x2="102.05" y1="701.34" y2="701.34" stroke="#171717" stroke-width="2.7"/>
<text x="88.15" y="710.44" font-family="Liberation Sans, sans-serif" font-size="23.6" fill="#4D4D4D" text-anchor="end">25</text>
<line x1="94.45" x2="102.05" y1="631.56" y2="631.56" stroke="#171717" stroke-width="2.7"/>
<text x="88.15" y="640.66" font-family="Liberation Sans, sans-serif" font-size="23.6" fill="#4D4D4D" text-anchor="end">50</text>
<line x1="94.45" x2="102.05" y1="561.78" y2="561.78" stroke="#171717" stroke-width="2.7"/>
<text x="88.15" y="570.88" font-family="Liberation Sans, sans-serif" font-size="23.6" fill="#4D4D4D" text-anchor="end">75</text>
<line x1="94.45" x2="102.05" y1="492.00" y2="492.00" stroke="#171717" stroke-width="2.7"/>
<text x="88.15" y="501.10" font-family="Liberation Sans, sans-serif" font-size="23.6" fill="#4D4D4D" text-anchor="end">100</text>
<rect x="364.75" y="441.25" width="246.4" height="43.15" fill="#D1D1D1" stroke="#333333" stroke-width="1.6"/>
<text x="487.95" y="472.00" font-family="Liberation Sans, sans-serif" font-size="23.6" fill="#1A1A1A" text-anchor="middle">Fold06</text>
<g stroke="#E4E4E4">
<line x1="364.75" x2="611.15" y1="736.23" y2="736.23" stroke-width="1.4"/>
<line x1="364.75" x2="611.15" y1="666.45" y2="666.45" stroke-width="1.4"/>
<line x1="364.75" x2="611.15" y1="596.67" y2="596.67" stroke-width="1.4"/>
<line x1="364.75" x2="611.15" y1="526.89" y2="526.89" stroke-width="1.4"/>
<line y1="485.90" y2="745.90" x1="397.67" x2="397.67" stroke-width="1.4"/>
<line y1="485.90" y2="745.90" x1="442.81" x2="442.81" stroke-width="1.4"/>
<line y1="485.90" y2="745.90" x1="487.95" x2="487.95" stroke-width="1.4"/>
<line y1="485.90" y2="745.90" x1="533.09" x2="533.09" stroke-width="1.4"/>
<line y1="485.90" y2="745.90" x1="578.23" x2="578.23" stroke-width="1.4"/>
<line x1="364.75" x2="611.15" y1="701.34" y2="701.34" stroke-width="2.8"/>
<line x1="364.75" x2="611.15" y1="631.56" y2="631.56" stroke-width="2.8"/>
<line x1="364.75" x2="611.15" y1="561.78" y2="561.78" stroke-width="2.8"/>
<line x1="364.75" x2="611.15" y1="492.00" y2="492.00" stroke-width="2.8"/>
<line y1="485.90" y2="745.90" x1="375.10" x2="375.10" stroke-width="2.8"/>
<line y1="485.90" y2="745.90" x1="420.24" x2="420.24" stroke-width="2.8"/>
<line y1="485.90" y2="745.90" x1="465.38" x2="465.38" stroke-width="2.8"/>
<line y1="485.90" y2="745.90" x1="510.52" x2="510.52" stroke-width="2.8"/>
<line y1="485.90" y2="745.90" x1="555.66" x2="555.66" stroke-width="2.8"/>
<line y1="485.90" y2="745.90" x1="600.80" x2="600.80" stroke-width="2.8"/>
</g>
<path d="M375.16,730.88 C376.29,728.81 379.49,721.74 381.93,718.47 C384.38,715.19 387.39,712.75 389.84,711.24 C392.28,709.74 394.54,711.81 396.61,709.44 C398.68,707.07 400.37,701.35 402.25,697.02 C404.13,692.70 406.20,686.49 407.90,683.48 C409.59,680.47 410.53,679.65 412.41,678.97 C414.29,678.29 417.30,680.17 419.19,679.42 C421.07,678.67 421.82,676.15 423.70,674.45 C425.58,672.76 427.84,669.64 430.48,669.26 C433.11,668.89 436.12,671.22 439.51,672.20 C442.89,673.18 446.84,674.64 450.80,675.13 C454.75,675.62 460.01,674.68 463.21,675.13 C466.41,675.58 467.73,676.94 469.99,677.84 C472.24,678.74 473.75,680.44 476.76,680.55 C479.77,680.66 484.66,678.59 488.05,678.52 C491.44,678.44 494.07,680.59 497.08,680.10 C500.09,679.61 503.29,678.22 506.11,675.58 C508.93,672.95 511.57,666.93 514.01,664.30 C516.46,661.67 517.59,660.09 520.79,659.78 C523.98,659.48 529.06,662.23 533.20,662.49 C537.34,662.76 541.86,660.88 545.62,661.36 C549.38,661.85 551.64,665.62 555.78,665.43 C559.92,665.24 565.75,660.31 570.46,660.24 C575.16,660.16 578.92,664.19 584.00,664.98 C589.08,665.77 598.11,664.98 600.94,664.98" fill="none" stroke="#F0655F" stroke-opacity="0.8" stroke-width="4.4" stroke-linejoin="round" stroke-linecap="butt"/>
<path d="M375.16,620.29 C376.48,619.84 380.24,618.41 383.06,617.58 C385.88,616.75 388.89,615.81 392.09,615.32 C395.29,614.83 399.24,614.57 402.25,614.65 C405.26,614.72 406.58,615.89 410.16,615.77 C413.73,615.66 419.94,613.86 423.70,613.97 C427.46,614.08 429.35,616.15 432.73,616.45 C436.12,616.75 440.64,615.44 444.02,615.77 C447.41,616.11 450.42,618.67 453.05,618.48 C455.69,618.29 457.38,616.15 459.83,614.65 C462.27,613.14 464.34,610.32 467.73,609.45 C471.12,608.59 476.95,610.66 480.15,609.45 C483.34,608.25 484.85,603.81 486.92,602.23 C488.99,600.65 490.31,599.71 492.56,599.98 C494.82,600.24 497.64,603.51 500.47,603.81 C503.29,604.11 507.05,600.92 509.50,601.78 C511.94,602.65 513.26,606.86 515.14,609.00 C517.02,611.15 518.34,613.14 520.79,614.65 C523.23,616.15 526.99,617.17 529.82,618.03 C532.64,618.90 535.09,620.85 537.72,619.84 C540.35,618.82 543.55,613.37 545.62,611.94 C547.69,610.51 547.69,610.43 550.14,611.26 C552.58,612.09 557.10,616.60 560.30,616.90 C563.50,617.20 566.32,613.93 569.33,613.07 C572.34,612.20 575.16,611.26 578.36,611.71 C581.56,612.16 585.89,615.36 588.52,615.77 C591.15,616.19 592.09,615.51 594.16,614.19 C596.23,612.88 599.81,608.93 600.94,607.88" fill="none" stroke="#24B237" stroke-opacity="0.8" stroke-width="4.4" stroke-linejoin="round" stroke-linecap="butt"/>
<path d="M375.16,497.74 C375.91,499.92 377.98,506.39 379.68,510.83 C381.37,515.27 383.25,520.79 385.32,524.37 C387.39,527.94 389.27,530.95 392.09,532.27 C394.92,533.58 399.43,531.70 402.25,532.27 C405.08,532.83 406.58,534.04 409.03,535.65 C411.47,537.27 414.29,540.28 416.93,541.97 C419.56,543.66 422.20,544.15 424.83,545.81 C427.46,547.46 429.91,549.95 432.73,551.90 C435.56,553.86 438.57,557.36 441.76,557.55 C444.96,557.73 448.54,553.29 451.92,553.03 C455.31,552.77 459.07,555.66 462.08,555.97 C465.09,556.27 466.98,554.84 469.99,554.84 C473.00,554.84 477.14,556.27 480.15,555.97 C483.16,555.66 485.41,553.22 488.05,553.03 C490.68,552.84 492.56,555.55 495.95,554.84 C499.34,554.12 504.98,548.93 508.37,548.74 C511.76,548.55 513.64,552.20 516.27,553.71 C518.90,555.21 521.16,557.09 524.17,557.77 C527.18,558.45 530.95,558.00 534.33,557.77 C537.72,557.55 541.67,556.15 544.49,556.42 C547.31,556.68 548.63,558.30 551.27,559.35 C553.90,560.40 557.47,562.74 560.30,562.74 C563.12,562.74 565.75,560.48 568.20,559.35 C570.65,558.22 572.34,556.34 574.97,555.97 C577.61,555.59 579.68,556.91 584.00,557.09 C588.33,557.28 598.11,557.09 600.94,557.09" fill="none" stroke="#588FFD" stroke-opacity="0.8" stroke-width="4.4" stroke-linejoin="round" stroke-linecap="butt"/>
<rect x="364.75" y="485.90" width="246.4" height="260.0" fill="none" stroke="#333333" stroke-width="1.6"/>
<rect x="627.45" y="441.25" width="246.4" height="43.15" fill="#D1D1D1" stroke="#333333" stroke-width="1.6"/>
<text x="750.65" y="472.00" font-family="Liberation Sans, sans-serif" font-size="23.6" fill="#1A1A1A" text-anchor="middle">Fold07</text>
<g stroke="#E4E4E4">
<line x1="627.45" x2="873.85" y1="736.23" y2="736.23" stroke-width="1.4"/>
<line x1="627.45" x2="873.85" y1="666.45" y2="666.45" stroke-width="1.4"/>
<line x1="627.45" x2="873.85" y1="596.67" y2="596.67" stroke-width="1.4"/>
<line x1="627.45" x2="873.85" y1="526.89" y2="526.89" stroke-width="1.4"/>
<line y1="485.90" y2="745.90" x1="660.37" x2="660.37" stroke-width="1.4"/>
<line y1="485.90" y2="745.90" x1="705.51" x2="705.51" stroke-width="1.4"/>
<line y1="485.90" y2="745.90" x1="750.65" x2="750.65" stroke-width="1.4"/>
<line y1="485.90" y2="745.90" x1="795.79" x2="795.79" stroke-width="1.4"/>
<line y1="485.90" y2="745.90" x1="840.93" x2="840.93" stroke-width="1.4"/>
<line x1="627.45" x2="873.85" y1="701.34" y2="701.34" stroke-width="2.8"/>
<line x1="627.45" x2="873.85" y1="631.56" y2="631.56" stroke-width="2.8"/>
<line x1="627.45" x2="873.85" y1="561.78" y2="561.78" stroke-width="2.8"/>
<line x1="627.45" x2="873.85" y1="492.00" y2="492.00" stroke-width="2.8"/>
<line y1="485.90" y2="745.90" x1="637.80" x2="637.80" stroke-width="2.8"/>
<line y1="485.90" y2="745.90" x1="682.94" x2="682.94" stroke-width="2.8"/>
<line y1="485.90" y2="745.90" x1="728.08" x2="728.08" stroke-width="2.8"/>
<line y1="485.90" y2="745.90" x1="773.22" x2="773.22" stroke-width="2.8"/>
<line y1="485.90" y2="745.90" x1="818.36" x2="818.36" stroke-width="2.8"/>
<line y1="485.90" y2="745.90" x1="863.50" x2="863.50" stroke-width="2.8"/>
</g>
<path d="M637.16,729.30 C637.91,726.74 639.61,719.52 641.68,713.95 C643.75,708.38 646.76,701.73 649.58,695.90 C652.40,690.07 655.41,682.92 658.61,678.97 C661.81,675.02 665.01,675.09 668.77,672.20 C672.53,669.30 677.24,663.40 681.19,661.59 C685.14,659.78 688.71,662.15 692.48,661.36 C696.24,660.57 700.75,658.99 703.76,656.85 C706.77,654.71 708.28,651.10 710.54,648.50 C712.80,645.90 714.11,642.03 717.31,641.28 C720.51,640.53 725.59,644.85 729.73,643.99 C733.87,643.12 737.82,636.54 742.15,636.09 C746.47,635.64 751.55,641.09 755.69,641.28 C759.83,641.47 763.22,637.59 766.98,637.22 C770.74,636.84 775.26,639.32 778.27,639.02 C781.28,638.72 782.60,636.01 785.04,635.41 C787.49,634.81 789.56,637.93 792.95,635.41 C796.33,632.89 801.79,622.51 805.36,620.29 C808.94,618.07 811.01,622.02 814.39,622.09 C817.78,622.17 822.49,620.93 825.68,620.74 C828.88,620.55 830.76,621.60 833.59,620.97 C836.41,620.33 839.79,616.56 842.62,616.90 C845.44,617.24 847.13,620.55 850.52,623.00 C853.91,625.44 860.87,630.14 862.94,631.57" fill="none" stroke="#F0655F" stroke-opacity="0.8" stroke-width="4.4" stroke-linejoin="round" stroke-linecap="butt"/>
<path d="M637.16,624.12 C638.29,622.55 641.30,617.47 643.93,614.65 C646.57,611.82 649.58,608.03 652.96,607.20 C656.35,606.37 661.43,609.76 664.25,609.68 C667.08,609.61 666.32,608.36 669.90,606.75 C673.47,605.13 681.56,600.16 685.70,599.98 C689.84,599.79 691.72,603.93 694.73,605.62 C697.74,607.31 700.57,609.94 703.76,610.13 C706.96,610.32 710.91,606.93 713.92,606.75 C716.93,606.56 719.38,609.38 721.83,609.00 C724.27,608.63 726.15,606.37 728.60,604.49 C731.05,602.61 733.87,598.28 736.50,597.72 C739.14,597.15 741.77,599.86 744.40,601.10 C747.04,602.35 749.86,604.98 752.31,605.17 C754.75,605.35 756.63,603.36 759.08,602.23 C761.53,601.10 764.16,598.70 766.98,598.40 C769.80,598.09 772.81,599.67 776.01,600.43 C779.21,601.18 782.79,602.68 786.17,602.91 C789.56,603.14 793.13,601.89 796.33,601.78 C799.53,601.67 802.35,602.65 805.36,602.23 C808.37,601.82 811.38,599.19 814.39,599.30 C817.41,599.41 820.42,602.91 823.43,602.91 C826.44,602.91 829.82,600.09 832.46,599.30 C835.09,598.51 836.60,598.06 839.23,598.17 C841.86,598.28 844.31,598.81 848.26,599.98 C852.21,601.14 860.49,604.30 862.94,605.17" fill="none" stroke="#24B237" stroke-opacity="0.8" stroke-width="4.4" stroke-linejoin="round" stroke-linecap="butt"/>
<path d="M637.16,497.74 C637.91,500.11 640.17,507.89 641.68,511.95 C643.18,516.02 644.69,519.85 646.19,522.11 C647.70,524.37 648.64,526.06 650.71,525.50 C652.78,524.93 656.16,520.53 658.61,518.73 C661.05,516.92 662.75,513.91 665.38,514.66 C668.02,515.42 671.40,520.49 674.41,523.24 C677.42,525.99 681.19,529.26 683.44,531.14 C685.70,533.02 685.51,533.21 687.96,534.52 C690.41,535.84 695.30,536.97 698.12,539.04 C700.94,541.11 702.64,544.12 704.89,546.94 C707.15,549.76 709.41,553.78 711.67,555.97 C713.92,558.15 715.43,559.76 718.44,560.03 C721.45,560.29 725.78,557.17 729.73,557.55 C733.68,557.92 738.38,562.25 742.15,562.28 C745.91,562.32 748.92,558.26 752.31,557.77 C755.69,557.28 759.46,559.28 762.47,559.35 C765.48,559.43 768.11,557.47 770.37,558.22 C772.63,558.97 774.13,562.06 776.01,563.86 C777.89,565.67 779.02,569.24 781.66,569.06 C784.29,568.87 788.81,563.60 791.82,562.74 C794.83,561.87 797.09,564.62 799.72,563.86 C802.35,563.11 804.42,558.03 807.62,558.22 C810.82,558.41 815.34,563.68 818.91,564.99 C822.49,566.31 825.87,566.12 829.07,566.12 C832.27,566.12 835.28,564.73 838.10,564.99 C840.92,565.26 841.86,568.34 846.00,567.70 C850.14,567.06 860.11,562.25 862.94,561.16" fill="none" stroke="#588FFD" stroke-opacity="0.8" stroke-width="4.4" stroke-linejoin="round" stroke-linecap="butt"/>
<rect x="627.45" y="485.90" width="246.4" height="260.0" fill="none" stroke="#333333" stroke-width="1.6"/>
<line x1="637.80" x2="637.80" y1="745.90" y2="753.50" stroke="#171717" stroke-width="2.7"/>
<text x="637.80" y="776.90" font-family="Liberation Sans, sans-serif" font-size="23.6" fill="#4D4D4D" text-anchor="middle">0</text>
<line x1="682.94" x2="682.94" y1="745.90" y2="753.50" stroke="#171717" stroke-width="2.7"/>
<text x="682.94" y="776.90" font-family="Liberation Sans, sans-serif" font-size="23.6" fill="#4D4D4D" text-anchor="middle">100</text>
<line x1="728.08" x2="728.08" y1="745.90" y2="753.50" stroke="#171717" stroke-width="2.7"/>
<text x="728.08" y="776.90" font-family="Liberation Sans, sans-serif" font-size="23.6" fill="#4D4D4D" text-anchor="middle">200</text>
<line x1="773.22" x2="773.22" y1="745.90" y2="753.50" stroke="#171717" stroke-width="2.7"/>
<text x="773.22" y="776.90" font-family="Liberation Sans, sans-serif" font-size="23.6" fill="#4D4D4D" text-anchor="middle">300</text>
<line x1="818.36" x2="818.36" y1="745.90" y2="753.50" stroke="#171717" stroke-width="2.7"/>
<text x="818.36" y="776.90" font-family="Liberation Sans, sans-serif" font-size="23.6" fill="#4D4D4D" text-anchor="middle">400</text>
<line x1="863.50" x2="863.50" y1="745.90" y2="753.50" stroke="#171717" stroke-width="2.7"/>
<text x="863.50" y="776.90" font-family="Liberation Sans, sans-serif" font-size="23.6" fill="#4D4D4D" text-anchor="middle">500</text>
<rect x="890.15" y="441.25" width="246.4" height="43.15" fill="#D1D1D1" stroke="#333333" stroke-width="1.6"/>
<text x="1013.35" y="472.00" font-family="Liberation Sans, sans-serif" font-size="23.6" fill="#1A1A1A" text-anchor="middle">Fold08</text>
<g stroke="#E4E4E4">
<line x1="890.15" x2="1136.55" y1="736.23" y2="736.23" stroke-width="1.4"/>
<line x1="890.15" x2="1136.55" y1="666.45" y2="666.45" stroke-width="1.4"/>
<line x1="890.15" x2="1136.55" y1="596.67" y2="596.67" stroke-width="1.4"/>
<line x1="890.15" x2="1136.55" y1="526.89" y2="526.89" stroke-width="1.4"/>
<line y1="485.90" y2="745.90" x1="923.07" x2="923.07" stroke-width="1.4"/>
<line y1="485.90" y2="745.90" x1="968.21" x2="968.21" stroke-width="1.4"/>
<line y1="485.90" y2="745.90" x1="1013.35" x2="1013.35" stroke-width="1.4"/>
<line y1="485.90" y2="745.90" x1="1058.49" x2="1058.49" stroke-width="1.4"/>
<line y1="485.90" y2="745.90" x1="1103.63" x2="1103.63" stroke-width="1.4"/>
<line x1="890.15" x2="1136.55" y1="701.34" y2="701.34" stroke-width="2.8"/>
<line x1="890.15" x2="1136.55" y1="631.56" y2="631.56" stroke-width="2.8"/>
<line x1="890.15" x2="1136.55" y1="561.78" y2="561.78" stroke-width="2.8"/>
<line x1="890.15" x2="1136.55" y1="492.00" y2="492.00" stroke-width="2.8"/>
<line y1="485.90" y2="745.90" x1="900.50" x2="900.50" stroke-width="2.8"/>
<line y1="485.90" y2="745.90" x1="945.64" x2="945.64" stroke-width="2.8"/>
<line y1="485.90" y2="745.90" x1="990.78" x2="990.78" stroke-width="2.8"/>
<line y1="485.90" y2="745.90" x1="1035.92" x2="1035.92" stroke-width="2.8"/>
<line y1="485.90" y2="745.90" x1="1081.06" x2="1081.06" stroke-width="2.8"/>
<line y1="485.90" y2="745.90" x1="1126.20" x2="1126.20" stroke-width="2.8"/>
</g>
<path d="M900.16,729.75 C901.48,728.62 905.62,725.80 908.06,722.98 C910.51,720.16 912.58,717.34 914.84,712.82 C917.09,708.31 919.16,701.35 921.61,695.90 C924.05,690.44 927.07,684.99 929.51,680.10 C931.96,675.21 933.84,671.07 936.28,666.56 C938.73,662.04 941.36,656.59 944.19,653.01 C947.01,649.44 950.21,647.45 953.22,645.11 C956.23,642.78 959.43,639.77 962.25,639.02 C965.07,638.27 967.33,640.15 970.15,640.60 C972.97,641.05 976.55,641.99 979.18,641.73 C981.82,641.47 983.70,640.15 985.96,639.02 C988.21,637.89 990.47,635.45 992.73,634.96 C994.99,634.47 997.06,635.22 999.50,636.09 C1001.95,636.95 1004.58,639.77 1007.40,640.15 C1010.23,640.53 1013.80,639.10 1016.44,638.34 C1019.07,637.59 1020.76,635.90 1023.21,635.64 C1025.65,635.37 1028.85,636.76 1031.11,636.76 C1033.37,636.76 1034.69,636.12 1036.76,635.64 C1038.82,635.15 1041.08,633.68 1043.53,633.83 C1045.97,633.98 1048.98,636.73 1051.43,636.54 C1053.88,636.35 1055.57,633.98 1058.20,632.70 C1060.84,631.42 1064.79,629.24 1067.23,628.86 C1069.68,628.49 1070.62,629.80 1072.88,630.44 C1075.14,631.08 1077.77,633.38 1080.78,632.70 C1083.79,632.02 1088.12,626.87 1090.94,626.38 C1093.76,625.89 1095.27,628.53 1097.71,629.77 C1100.16,631.01 1102.61,632.96 1105.62,633.83 C1108.63,634.70 1112.39,634.13 1115.78,634.96 C1119.16,635.79 1124.24,638.16 1125.94,638.80" fill="none" stroke="#F0655F" stroke-opacity="0.8" stroke-width="4.4" stroke-linejoin="round" stroke-linecap="butt"/>
<path d="M900.16,615.77 C901.67,615.47 906.75,614.04 909.19,613.97 C911.64,613.89 912.58,614.53 914.84,615.32 C917.09,616.11 920.29,618.45 922.74,618.71 C925.18,618.97 927.25,617.69 929.51,616.90 C931.77,616.11 934.03,613.97 936.28,613.97 C938.54,613.97 940.61,615.66 943.06,616.90 C945.50,618.14 947.95,620.40 950.96,621.42 C953.97,622.43 958.30,622.17 961.12,623.00 C963.94,623.82 965.07,625.59 967.89,626.38 C970.72,627.17 975.23,627.92 978.05,627.74 C980.88,627.55 982.38,626.31 984.83,625.25 C987.27,624.20 990.09,621.49 992.73,621.42 C995.36,621.34 998.18,624.35 1000.63,624.80 C1003.08,625.25 1005.33,624.31 1007.40,624.12 C1009.47,623.94 1010.79,623.94 1013.05,623.67 C1015.31,623.41 1018.69,621.98 1020.95,622.55 C1023.21,623.11 1024.71,625.29 1026.60,627.06 C1028.48,628.83 1029.98,632.48 1032.24,633.15 C1034.50,633.83 1037.51,630.82 1040.14,631.12 C1042.78,631.42 1045.22,634.43 1048.04,634.96 C1050.87,635.48 1054.44,634.58 1057.07,634.28 C1059.71,633.98 1061.21,633.04 1063.85,633.15 C1066.48,633.27 1070.25,634.85 1072.88,634.96 C1075.51,635.07 1077.02,635.03 1079.65,633.83 C1082.29,632.63 1086.05,627.92 1088.68,627.74 C1091.32,627.55 1093.76,631.69 1095.46,632.70 C1097.15,633.72 1096.40,634.02 1098.84,633.83 C1101.29,633.64 1105.62,632.51 1110.13,631.57 C1114.65,630.63 1123.30,628.75 1125.94,628.19" fill="none" stroke="#24B237" stroke-opacity="0.8" stroke-width="4.4" stroke-linejoin="round" stroke-linecap="butt"/>
<path d="M900.16,501.80 C900.91,503.87 902.98,510.38 904.68,514.21 C906.37,518.05 908.44,522.49 910.32,524.82 C912.20,527.15 913.71,527.23 915.96,528.20 C918.22,529.18 921.61,530.31 923.87,530.69 C926.12,531.06 927.44,530.69 929.51,530.46 C931.58,530.24 934.03,529.03 936.28,529.33 C938.54,529.63 940.80,531.14 943.06,532.27 C945.32,533.40 947.57,535.92 949.83,536.10 C952.09,536.29 954.35,535.05 956.60,533.40 C958.86,531.74 961.31,527.30 963.38,526.17 C965.45,525.05 966.58,526.17 969.02,526.62 C971.47,527.08 975.61,528.51 978.05,528.88 C980.50,529.26 981.82,528.32 983.70,528.88 C985.58,529.45 987.08,531.33 989.34,532.27 C991.60,533.21 994.99,534.52 997.24,534.52 C999.50,534.52 1000.82,533.32 1002.89,532.27 C1004.96,531.21 1007.40,528.51 1009.66,528.20 C1011.92,527.90 1014.18,529.78 1016.44,530.46 C1018.69,531.14 1020.76,532.27 1023.21,532.27 C1025.65,532.27 1028.29,531.03 1031.11,530.46 C1033.93,529.90 1037.70,528.96 1040.14,528.88 C1042.59,528.81 1044.09,529.52 1045.79,530.01 C1047.48,530.50 1048.04,532.08 1050.30,531.82 C1052.56,531.55 1056.32,529.03 1059.33,528.43 C1062.34,527.83 1065.73,527.64 1068.36,528.20 C1071.00,528.77 1072.50,530.76 1075.14,531.82 C1077.77,532.87 1081.16,534.26 1084.17,534.52 C1087.18,534.79 1089.44,533.77 1093.20,533.40 C1096.96,533.02 1102.98,532.19 1106.75,532.27 C1110.51,532.34 1112.58,533.85 1115.78,533.85 C1118.98,533.85 1124.24,532.53 1125.94,532.27" fill="none" stroke="#588FFD" stroke-opacity="0.8" stroke-width="4.4" stroke-linejoin="round" stroke-linecap="butt"/>
<rect x="890.15" y="485.90" width="246.4" height="260.0" fill="none" stroke="#333333" stroke-width="1.6"/>
<line x1="900.50" x2="900.50" y1="745.90" y2="753.50" stroke="#171717" stroke-width="2.7"/>
<text x="900.50" y="776.90" font-family="Liberation Sans, sans-serif" font-size="23.6" fill="#4D4D4D" text-anchor="middle">0</text>
<line x1="945.64" x2="945.64" y1="745.90" y2="753.50" stroke="#171717" stroke-width="2.7"/>
<text x="945.64" y="776.90" font-family="Liberation Sans, sans-serif" font-size="23.6" fill="#4D4D4D" text-anchor="middle">100</text>
<line x1="990.78" x2="990.78" y1="745.90" y2="753.50" stroke="#171717" stroke-width="2.7"/>
<text x="990.78" y="776.90" font-family="Liberation Sans, sans-serif" font-size="23.6" fill="#4D4D4D" text-anchor="middle">200</text>
<line x1="1035.92" x2="1035.92" y1="745.90" y2="753.50" stroke="#171717" stroke-width="2.7"/>
<text x="1035.92" y="776.90" font-family="Liberation Sans, sans-serif" font-size="23.6" fill="#4D4D4D" text-anchor="middle">300</text>
<line x1="1081.06" x2="1081.06" y1="745.90" y2="753.50" stroke="#171717" stroke-width="2.7"/>
<text x="1081.06" y="776.90" font-family="Liberation Sans, sans-serif" font-size="23.6" fill="#4D4D4D" text-anchor="middle">400</text>
<line x1="1126.20" x2="1126.20" y1="745.90" y2="753.50" stroke="#171717" stroke-width="2.7"/>
<text x="1126.20" y="776.90" font-family="Liberation Sans, sans-serif" font-size="23.6" fill="#4D4D4D" text-anchor="middle">500</text>
<rect x="102.05" y="762.45" width="246.4" height="43.15" fill="#D1D1D1" stroke="#333333" stroke-width="1.6"/>
<text x="225.25" y="793.20" font-family="Liberation Sans, sans-serif" font-size="23.6" fill="#1A1A1A" text-anchor="middle">Fold09</text>
<g stroke="#E4E4E4">
<line x1="102.05" x2="348.45" y1="1057.43" y2="1057.43" stroke-width="1.4"/>
<line x1="102.05" x2="348.45" y1="987.65" y2="987.65" stroke-width="1.4"/>
<line x1="102.05" x2="348.45" y1="917.87" y2="917.87" stroke-width="1.4"/>
<line x1="102.05" x2="348.45" y1="848.09" y2="848.09" stroke-width="1.4"/>
<line y1="807.10" y2="1067.10" x1="134.97" x2="134.97" stroke-width="1.4"/>
<line y1="807.10" y2="1067.10" x1="180.11" x2="180.11" stroke-width="1.4"/>
<line y1="807.10" y2="1067.10" x1="225.25" x2="225.25" stroke-width="1.4"/>
<line y1="807.10" y2="1067.10" x1="270.39" x2="270.39" stroke-width="1.4"/>
<line y1="807.10" y2="1067.10" x1="315.53" x2="315.53" stroke-width="1.4"/>
<line x1="102.05" x2="348.45" y1="1022.54" y2="1022.54" stroke-width="2.8"/>
<line x1="102.05" x2="348.45" y1="952.76" y2="952.76" stroke-width="2.8"/>
<line x1="102.05" x2="348.45" y1="882.98" y2="882.98" stroke-width="2.8"/>
<line x1="102.05" x2="348.45" y1="813.20" y2="813.20" stroke-width="2.8"/>
<line y1="807.10" y2="1067.10" x1="112.40" x2="112.40" stroke-width="2.8"/>
<line y1="807.10" y2="1067.10" x1="157.54" x2="157.54" stroke-width="2.8"/>
<line y1="807.10" y2="1067.10" x1="202.68" x2="202.68" stroke-width="2.8"/>
<line y1="807.10" y2="1067.10" x1="247.82" x2="247.82" stroke-width="2.8"/>
<line y1="807.10" y2="1067.10" x1="292.96" x2="292.96" stroke-width="2.8"/>
<line y1="807.10" y2="1067.10" x1="338.10" x2="338.10" stroke-width="2.8"/>
</g>
<path d="M112.16,1053.01 C113.85,1048.12 118.56,1033.82 122.32,1023.67 C126.08,1013.51 131.54,998.46 134.74,992.07 C137.94,985.67 139.07,987.56 141.51,985.30 C143.96,983.04 146.21,979.09 149.41,978.53 C152.61,977.96 156.94,982.55 160.70,981.91 C164.46,981.27 168.98,976.01 171.99,974.69 C175.00,973.37 176.13,975.33 178.76,974.01 C181.40,972.70 185.16,969.42 187.80,966.79 C190.43,964.16 192.12,961.60 194.57,958.22 C197.01,954.83 200.21,948.66 202.47,946.48 C204.73,944.30 206.05,944.94 208.12,945.12 C210.18,945.31 212.25,946.82 214.89,947.61 C217.52,948.40 220.16,948.02 223.92,949.86 C227.68,951.71 232.76,956.90 237.47,958.67 C242.17,960.43 248.38,961.30 252.14,960.47 C255.90,959.64 257.22,954.83 260.04,953.70 C262.87,952.57 266.63,953.33 269.07,953.70 C271.52,954.08 272.65,956.03 274.72,955.96 C276.79,955.88 279.05,953.06 281.49,953.25 C283.94,953.44 286.95,957.12 289.39,957.09 C291.84,957.05 293.16,953.33 296.17,953.02 C299.18,952.72 303.51,954.79 307.46,955.28 C311.41,955.77 314.79,956.41 319.87,955.96 C324.95,955.51 334.93,953.14 337.94,952.57" fill="none" stroke="#F0655F" stroke-opacity="0.8" stroke-width="4.4" stroke-linejoin="round" stroke-linecap="butt"/>
<path d="M112.16,926.62 C113.48,928.12 117.24,933.28 120.06,935.65 C122.88,938.02 126.65,939.97 129.09,940.84 C131.54,941.70 132.29,940.31 134.74,940.84 C137.18,941.36 140.01,942.98 143.77,944.00 C147.53,945.01 154.12,945.88 157.32,946.93 C160.51,947.98 159.38,949.83 162.96,950.32 C166.53,950.80 174.25,949.79 178.76,949.86 C183.28,949.94 186.29,951.07 190.05,950.77 C193.82,950.47 198.33,947.65 201.34,948.06 C204.35,948.47 205.86,951.48 208.12,953.25 C210.37,955.02 211.88,959.34 214.89,958.67 C217.90,957.99 222.98,950.09 226.18,949.19 C229.38,948.28 231.07,953.33 234.08,953.25 C237.09,953.17 241.23,949.30 244.24,948.74 C247.25,948.17 249.51,950.24 252.14,949.86 C254.78,949.49 257.41,946.40 260.04,946.48 C262.68,946.55 265.31,950.50 267.95,950.32 C270.58,950.13 273.03,945.61 275.85,945.35 C278.67,945.09 281.87,948.17 284.88,948.74 C287.89,949.30 290.71,947.72 293.91,948.74 C297.11,949.75 300.12,954.83 304.07,954.83 C308.02,954.83 313.67,949.86 317.62,948.74 C321.57,947.61 324.39,949.41 327.78,948.06 C331.16,946.70 336.24,941.85 337.94,940.61" fill="none" stroke="#24B237" stroke-opacity="0.8" stroke-width="4.4" stroke-linejoin="round" stroke-linecap="butt"/>
<path d="M112.16,820.09 C113.10,820.92 115.73,823.48 117.80,825.06 C119.87,826.64 122.32,828.14 124.58,829.57 C126.84,831.00 128.91,832.50 131.35,833.63 C133.80,834.76 137.18,834.57 139.25,836.34 C141.32,838.11 142.08,840.48 143.77,844.24 C145.46,848.00 147.53,854.21 149.41,858.91 C151.29,863.61 153.18,870.12 155.06,872.45 C156.94,874.78 158.44,873.28 160.70,872.90 C162.96,872.53 166.16,870.01 168.60,870.19 C171.05,870.38 172.56,871.77 175.38,874.03 C178.20,876.29 182.72,882.80 185.54,883.74 C188.36,884.68 190.24,880.73 192.31,879.67 C194.38,878.62 196.26,877.12 197.96,877.42 C199.65,877.72 200.59,880.24 202.47,881.48 C204.35,882.72 206.61,885.62 209.24,884.86 C211.88,884.11 215.83,878.21 218.28,876.97 C220.72,875.72 221.47,876.36 223.92,877.42 C226.37,878.47 230.13,882.68 232.95,883.28 C235.77,883.89 238.41,882.01 240.85,881.03 C243.30,880.05 244.24,877.34 247.63,877.42 C251.01,877.49 257.60,880.69 261.17,881.48 C264.75,882.27 266.25,881.22 269.07,882.16 C271.90,883.10 275.10,886.48 278.11,887.12 C281.12,887.76 284.31,886.44 287.14,885.99 C289.96,885.54 292.41,884.90 295.04,884.41 C297.67,883.92 300.31,882.23 302.94,883.06 C305.58,883.89 308.02,886.63 310.84,889.38 C313.67,892.12 317.05,897.39 319.87,899.53 C322.70,901.68 324.77,902.32 327.78,902.24 C330.79,902.17 336.24,899.61 337.94,899.08" fill="none" stroke="#588FFD" stroke-opacity="0.8" stroke-width="4.4" stroke-linejoin="round" stroke-linecap="butt"/>
<rect x="102.05" y="807.10" width="246.4" height="260.0" fill="none" stroke="#333333" stroke-width="1.6"/>
<line x1="94.45" x2="102.05" y1="1022.54" y2="1022.54" stroke="#171717" stroke-width="2.7"/>
<text x="88.15" y="1031.64" font-family="Liberation Sans, sans-serif" font-size="23.6" fill="#4D4D4D" text-anchor="end">25</text>
<line x1="94.45" x2="102.05" y1="952.76" y2="952.76" stroke="#171717" stroke-width="2.7"/>
<text x="88.15" y="961.86" font-family="Liberation Sans, sans-serif" font-size="23.6" fill="#4D4D4D" text-anchor="end">50</text>
<line x1="94.45" x2="102.05" y1="882.98" y2="882.98" stroke="#171717" stroke-width="2.7"/>
<text x="88.15" y="892.08" font-family="Liberation Sans, sans-serif" font-size="23.6" fill="#4D4D4D" text-anchor="end">75</text>
<line x1="94.45" x2="102.05" y1="813.20" y2="813.20" stroke="#171717" stroke-width="2.7"/>
<text x="88.15" y="822.30" font-family="Liberation Sans, sans-serif" font-size="23.6" fill="#4D4D4D" text-anchor="end">100</text>
<line x1="112.40" x2="112.40" y1="1067.10" y2="1074.70" stroke="#171717" stroke-width="2.7"/>
<text x="112.40" y="1098.10" font-family="Liberation Sans, sans-serif" font-size="23.6" fill="#4D4D4D" text-anchor="middle">0</text>
<line x1="157.54" x2="157.54" y1="1067.10" y2="1074.70" stroke="#171717" stroke-width="2.7"/>
<text x="157.54" y="1098.10" font-family="Liberation Sans, sans-serif" font-size="23.6" fill="#4D4D4D" text-anchor="middle">100</text>
<line x1="202.68" x2="202.68" y1="1067.10" y2="1074.70" stroke="#171717" stroke-width="2.7"/>
<text x="202.68" y="1098.10" font-family="Liberation Sans, sans-serif" font-size="23.6" fill="#4D4D4D" text-anchor="middle">200</text>
<line x1="247.82" x2="247.82" y1="1067.10" y2="1074.70" stroke="#171717" stroke-width="2.7"/>
<text x="247.82" y="1098.10" font-family="Liberation Sans, sans-serif" font-size="23.6" fill="#4D4D4D" text-anchor="middle">300</text>
<line x1="292.96" x2="292.96" y1="1067.10" y2="1074.70" stroke="#171717" stroke-width="2.7"/>
<text x="292.96" y="1098.10" font-family="Liberation Sans, sans-serif" font-size="23.6" fill="#4D4D4D" text-anchor="middle">400</text>
<line x1="338.10" x2="338.10" y1="1067.10" y2="1074.70" stroke="#171717" stroke-width="2.7"/>
<text x="338.10" y="1098.10" font-family="Liberation Sans, sans-serif" font-size="23.6" fill="#4D4D4D" text-anchor="middle">500</text>
<rect x="364.75" y="762.45" width="246.4" height="43.15" fill="#D1D1D1" stroke="#333333" stroke-width="1.6"/>
<text x="487.95" y="793.20" font-family="Liberation Sans, sans-serif" font-size="23.6" fill="#1A1A1A" text-anchor="middle">Fold10</text>
<g stroke="#E4E4E4">
<line x1="364.75" x2="611.15" y1="1057.43" y2="1057.43" stroke-width="1.4"/>
<line x1="364.75" x2="611.15" y1="987.65" y2="987.65" stroke-width="1.4"/>
<line x1="364.75" x2="611.15" y1="917.87" y2="917.87" stroke-width="1.4"/>
<line x1="364.75" x2="611.15" y1="848.09" y2="848.09" stroke-width="1.4"/>
<line y1="807.10" y2="1067.10" x1="397.67" x2="397.67" stroke-width="1.4"/>
<line y1="807.10" y2="1067.10" x1="442.81" x2="442.81" stroke-width="1.4"/>
<line y1="807.10" y2="1067.10" x1="487.95" x2="487.95" stroke-width="1.4"/>
<line y1="807.10" y2="1067.10" x1="533.09" x2="533.09" stroke-width="1.4"/>
<line y1="807.10" y2="1067.10" x1="578.23" x2="578.23" stroke-width="1.4"/>
<line x1="364.75" x2="611.15" y1="1022.54" y2="1022.54" stroke-width="2.8"/>
<line x1="364.75" x2="611.15" y1="952.76" y2="952.76" stroke-width="2.8"/>
<line x1="364.75" x2="611.15" y1="882.98" y2="882.98" stroke-width="2.8"/>
<line x1="364.75" x2="611.15" y1="813.20" y2="813.20" stroke-width="2.8"/>
<line y1="807.10" y2="1067.10" x1="375.10" x2="375.10" stroke-width="2.8"/>
<line y1="807.10" y2="1067.10" x1="420.24" x2="420.24" stroke-width="2.8"/>
<line y1="807.10" y2="1067.10" x1="465.38" x2="465.38" stroke-width="2.8"/>
<line y1="807.10" y2="1067.10" x1="510.52" x2="510.52" stroke-width="2.8"/>
<line y1="807.10" y2="1067.10" x1="555.66" x2="555.66" stroke-width="2.8"/>
<line y1="807.10" y2="1067.10" x1="600.80" x2="600.80" stroke-width="2.8"/>
</g>
<path d="M375.16,1051.88 C376.29,1048.68 379.86,1038.15 381.93,1032.69 C384.00,1027.24 385.32,1022.91 387.58,1019.15 C389.84,1015.39 392.85,1013.13 395.48,1010.12 C398.11,1007.12 400.18,1003.81 403.38,1001.10 C406.58,998.39 411.66,994.82 414.67,993.88 C417.68,992.93 419.00,994.82 421.44,995.45 C423.89,996.09 427.28,998.09 429.35,997.71 C431.42,997.34 431.79,995.83 433.86,993.20 C435.93,990.56 439.51,984.17 441.76,981.91 C444.02,979.66 445.34,979.92 447.41,979.66 C449.48,979.39 452.30,980.41 454.18,980.33 C456.06,980.26 456.63,979.32 458.70,979.20 C460.77,979.09 463.21,980.90 466.60,979.66 C469.99,978.41 475.44,972.06 479.02,971.76 C482.59,971.46 485.23,976.46 488.05,977.85 C490.87,979.24 492.56,980.18 495.95,980.11 C499.34,980.03 503.85,977.29 508.37,977.40 C512.88,977.51 519.66,980.41 523.04,980.78 C526.43,981.16 526.43,981.16 528.69,979.66 C530.95,978.15 533.96,973.37 536.59,971.76 C539.22,970.14 541.48,969.95 544.49,969.95 C547.50,969.95 551.45,971.08 554.65,971.76 C557.85,972.43 560.67,973.90 563.68,974.01 C566.69,974.13 569.89,972.36 572.71,972.43 C575.54,972.51 577.61,975.14 580.62,974.47 C583.63,973.79 587.39,970.06 590.78,968.37 C594.16,966.68 599.24,964.99 600.94,964.31" fill="none" stroke="#F0655F" stroke-opacity="0.8" stroke-width="4.4" stroke-linejoin="round" stroke-linecap="butt"/>
<path d="M375.16,937.90 C376.10,938.58 378.73,941.21 380.80,941.97 C382.87,942.72 385.13,943.17 387.58,942.42 C390.02,941.66 392.66,938.84 395.48,937.45 C398.30,936.06 401.88,935.50 404.51,934.07 C407.15,932.64 408.65,930.12 411.28,928.88 C413.92,927.63 416.93,926.73 420.32,926.62 C423.70,926.51 428.22,928.09 431.60,928.20 C434.99,928.31 437.25,927.18 440.64,927.30 C444.02,927.41 448.16,927.78 451.92,928.88 C455.69,929.97 460.20,934.03 463.21,933.84 C466.22,933.65 467.92,929.40 469.99,927.75 C472.06,926.09 473.94,923.91 475.63,923.91 C477.32,923.91 478.08,926.73 480.15,927.75 C482.22,928.76 485.60,929.93 488.05,930.00 C490.49,930.08 491.81,928.09 494.82,928.20 C497.83,928.31 502.91,930.68 506.11,930.68 C509.31,930.68 511.00,929.25 514.01,928.20 C517.02,927.14 520.79,924.62 524.17,924.36 C527.56,924.10 531.13,926.05 534.33,926.62 C537.53,927.18 540.35,928.31 543.36,927.75 C546.37,927.18 549.20,923.53 552.39,923.23 C555.59,922.93 559.36,925.19 562.55,925.94 C565.75,926.69 567.63,928.27 571.59,927.75 C575.54,927.22 582.50,923.08 586.26,922.78 C590.02,922.48 591.72,924.36 594.16,925.94 C596.61,927.52 599.81,931.21 600.94,932.26" fill="none" stroke="#24B237" stroke-opacity="0.8" stroke-width="4.4" stroke-linejoin="round" stroke-linecap="butt"/>
<path d="M375.16,822.35 C375.91,824.12 378.17,829.87 379.68,832.95 C381.18,836.04 382.50,838.86 384.19,840.85 C385.88,842.85 387.77,844.35 389.84,844.92 C391.91,845.48 394.54,843.86 396.61,844.24 C398.68,844.62 400.00,846.31 402.25,847.17 C404.51,848.04 407.33,849.84 410.16,849.43 C412.98,849.02 416.55,845.07 419.19,844.69 C421.82,844.31 423.33,846.01 425.96,847.17 C428.59,848.34 431.98,851.61 434.99,851.69 C438.00,851.76 441.58,848.23 444.02,847.62 C446.47,847.02 447.78,847.62 449.67,848.08 C451.55,848.53 452.86,850.60 455.31,850.33 C457.76,850.07 461.52,847.21 464.34,846.50 C467.16,845.78 468.86,845.74 472.24,846.05 C475.63,846.35 480.90,848.11 484.66,848.30 C488.42,848.49 491.44,846.23 494.82,847.17 C498.21,848.11 502.16,852.82 504.98,853.94 C507.80,855.07 508.74,853.68 511.76,853.94 C514.77,854.21 520.03,855.64 523.04,855.52 C526.05,855.41 527.18,852.63 529.82,853.27 C532.45,853.91 535.46,858.72 538.85,859.36 C542.23,860.00 546.94,857.56 550.14,857.10 C553.34,856.65 555.41,857.18 558.04,856.65 C560.67,856.13 563.12,854.02 565.94,853.94 C568.76,853.87 571.77,856.31 574.97,856.20 C578.17,856.09 582.31,853.64 585.13,853.27 C587.95,852.89 589.27,853.19 591.91,853.94 C594.54,854.70 599.43,857.14 600.94,857.78" fill="none" stroke="#588FFD" stroke-opacity="0.8" stroke-width="4.4" stroke-linejoin="round" stroke-linecap="butt"/>
<rect x="364.75" y="807.10" width="246.4" height="260.0" fill="none" stroke="#333333" stroke-width="1.6"/>
<line x1="375.10" x2="375.10" y1="1067.10" y2="1074.70" stroke="#171717" stroke-width="2.7"/>
<text x="375.10" y="1098.10" font-family="Liberation Sans, sans-serif" font-size="23.6" fill="#4D4D4D" text-anchor="middle">0</text>
<line x1="420.24" x2="420.24" y1="1067.10" y2="1074.70" stroke="#171717" stroke-width="2.7"/>
<text x="420.24" y="1098.10" font-family="Liberation Sans, sans-serif" font-size="23.6" fill="#4D4D4D" text-anchor="middle">100</text>
<line x1="465.38" x2="465.38" y1="1067.10" y2="1074.70" stroke="#171717" stroke-width="2.7"/>
<text x="465.38" y="1098.10" font-family="Liberation Sans, sans-serif" font-size="23.6" fill="#4D4D4D" text-anchor="middle">200</text>
<line x1="510.52" x2="510.52" y1="1067.10" y2="1074.70" stroke="#171717" stroke-width="2.7"/>
<text x="510.52" y="1098.10" font-family="Liberation Sans, sans-serif" font-size="23.6" fill="#4D4D4D" text-anchor="middle">300</text>
<line x1="555.66" x2="555.66" y1="1067.10" y2="1074.70" stroke="#171717" stroke-width="2.7"/>
<text x="555.66" y="1098.10" font-family="Liberation Sans, sans-serif" font-size="23.6" fill="#4D4D4D" text-anchor="middle">400</text>
<line x1="600.80" x2="600.80" y1="1067.10" y2="1074.70" stroke="#171717" stroke-width="2.7"/>
<text x="600.80" y="1098.10" font-family="Liberation Sans, sans-serif" font-size="23.6" fill="#4D4D4D" text-anchor="middle">500</text>
<text x="618.6" y="1132.1" font-family="Liberation Sans, sans-serif" font-size="29.4" fill="#000" text-anchor="middle">Selection Iteration</text>
<text transform="translate(35.9,616.4) rotate(-90)" font-family="Liberation Sans, sans-serif" font-size="29.4" fill="#000" text-anchor="middle">Subset Size (smoothed)</text>
</svg></body></html>
